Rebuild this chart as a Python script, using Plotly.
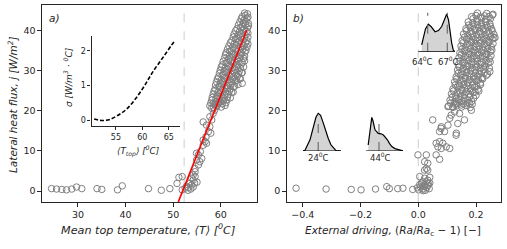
import plotly.graph_objects as go

W, H = 507, 249
def px(x): return x / W
def py(y): return (H - y) / H

# ---------------- data ----------------
# panel a: mean top temperature <T> [°C] vs lateral heat flux j [W/m2]
left_low = [(24.45,0.6),(25.5,0.5),(26.6,0.4),(27.6,0.3),(28.7,0.5),(29.7,1.0),(30.8,0.6),
            (34.0,0.6),(35.0,0.4),(38.3,0.3),(39.3,1.3),(44.8,0.6),(47.5,0.2),(49.3,0.6)]
left_mid = [(50.8,1.9),(51.2,3.4),(51.9,3.6),(51.9,0.3),(52.5,0.7),(52.8,1.2),(53.2,0.9),(53.5,1.9),
            (53.9,1.5),(53.7,0.5),(54.2,1.0),(53.1,0.2),(54.2,2.7),(53.9,3.2),(54.6,3.6),(54.2,4.0),
            (54.6,4.8),(55.0,2.2),(54.5,2.0),(54.6,5.6),(55.3,6.5),(55.6,7.3),(54.9,7.7),(56.0,8.1),
            (55.3,9.0),(54.9,9.4),(55.7,9.8),(56.3,11.4),(56.7,12.3),(57.0,11.9),(56.3,12.7),(56.9,13.5),
            (57.4,14.8),(57.9,14.4),(57.7,16.0),(57.0,16.4),(56.3,17.2),(58.1,17.7),(57.7,18.5),(58.4,19.3),
            (58.7,20.1),(58.1,20.6),(59.1,21.0),(58.4,21.8),(59.4,21.8),(59.8,22.2),(60.5,22.6)]
left_band = [(57.7,21.2),(58.5,20.8),(59.3,21.4),(60.1,20.9),(60.9,21.3),
             (57.9,21.9),(58.7,21.6),(59.5,22.0),(60.3,21.7),(61.1,22.0),
             (58.1,22.6),(58.9,22.2),(59.7,22.8),(60.5,22.4),(61.3,22.7),
             (58.2,23.3),(59.0,23.0),(59.8,23.5),(60.6,23.1),(61.4,23.4),(62.0,23.2),
             (58.4,24.2),(59.2,23.7),(60.0,24.4),(60.8,23.9),(61.6,24.1),(62.3,24.6),
             (58.6,24.9),(59.4,24.6),(60.2,25.0),(61.0,24.7),(61.8,24.9),(62.6,24.6),
             (58.8,25.4),(59.6,25.9),(60.4,25.3),(61.2,25.7),(62.0,25.4),(62.7,25.9),
             (58.9,26.4),(59.7,26.1),(60.5,26.5),(61.3,26.2),(62.1,26.4),(62.9,26.1),(63.6,26.5),
             (59.1,27.2),(59.9,26.8),(60.7,27.3),(61.5,26.9),(62.3,27.1),(63.1,27.4),(64.5,26.8),
             (59.3,27.9),(60.1,27.6),(60.9,28.0),(61.7,27.7),(62.5,27.9),(63.3,27.6),(64.0,27.9),
             (59.5,28.4),(60.3,28.8),(61.1,28.3),(61.9,28.7),(62.7,28.4),(63.5,28.6),(64.1,28.0),
             (59.7,29.3),(60.5,29.0),(61.3,29.5),(62.1,29.1),(62.9,29.4),(63.7,29.1),(64.4,29.4),
             (59.9,30.1),(60.7,29.8),(61.5,30.3),(62.3,29.9),(63.1,30.2),(63.9,29.8),(64.5,29.5),
             (60.1,30.9),(60.9,30.6),(61.7,31.0),(62.5,30.7),(63.3,30.9),(64.1,30.6),(64.8,30.9),
             (60.3,31.4),(61.1,31.8),(61.9,31.3),(62.7,31.7),(63.5,31.4),(64.3,31.6),
             (60.5,32.3),(61.3,32.0),(62.1,32.4),(62.9,32.1),(63.7,32.3),(64.5,32.0),(65.0,32.4),
             (60.8,33.2),(61.6,32.8),(62.4,33.3),(63.2,32.9),(64.0,33.1),(64.8,33.0),
             (61.0,33.9),(61.8,33.6),(62.6,34.0),(63.4,33.7),(64.2,33.9),(65.0,33.6),
             (61.1,34.4),(61.9,34.8),(62.7,34.3),(63.5,34.7),(64.3,34.4),(65.1,34.6),
             (61.4,35.3),(62.2,35.0),(63.0,35.4),(63.8,35.1),(64.6,35.3),(65.3,35.0),
             (61.7,36.1),(62.5,35.8),(63.3,36.3),(64.1,35.9),(64.9,36.2),(65.5,35.8),
             (62.0,36.9),(62.8,36.6),(63.6,37.0),(64.4,36.7),(65.2,36.9),(65.7,36.6),
             (62.3,37.4),(63.1,37.8),(63.9,37.3),(64.7,37.7),(65.5,37.4),
             (62.6,38.3),(63.4,38.0),(64.2,38.4),(65.0,38.1),(65.7,38.3),
             (62.8,39.1),(63.6,38.8),(64.4,39.2),(65.1,38.9),(65.7,39.3),
             (63.1,39.9),(63.9,39.6),(64.7,40.0),(65.4,39.7),
             (63.4,40.4),(64.2,40.7),(64.9,40.3),(65.6,40.6),
             (63.7,41.3),(64.5,41.0),(65.2,41.4),(65.8,41.1),
             (64.0,42.1),(64.7,41.8),(65.3,42.2),(65.8,41.7),
             (64.3,42.9),(64.9,42.6),(65.5,43.0),
             (64.5,43.4),(65.1,43.7),(65.7,43.3),
             (65.0,44.3),(65.6,44.1)]
fit_T = [51.07, 65.44]
fit_j = [-2.7, 40.0]
T_crit = 52.3

# panel b: external driving (Ra/Ra_c - 1) vs j
right_low = [(-0.423,0.7),(-0.319,0.5),(-0.232,0.4),(-0.198,0.3),(-0.148,0.5),(-0.109,1.1),
             (-0.100,0.6),(-0.071,0.6),(-0.053,0.7),(-0.019,0.4)]
right_mid = [(0.002,0.3),(0.008,1.0),(0.015,0.5),(0.020,1.5),(0.025,0.2),(0.030,0.9),(0.035,1.8),
             (0.012,2.0),(0.038,0.6),(0.005,1.6),(0.022,1.1),(0.028,2.3),(0.017,0.1),(0.033,1.4),
             (-0.003,0.8),(0.040,2.0),(0.005,3.6),(0.022,3.2),(0.033,2.7),(0.016,2.3),(0.040,3.4),
             (-0.001,9.0),(0.028,9.0),(0.022,7.3),(0.033,6.9),(0.028,5.6),(0.022,5.2),(0.033,5.2),
             (0.062,9.0),(0.074,7.9),(0.062,11.9),(0.074,12.3),(0.085,11.9),(0.068,11.0),(0.097,11.0),
             (0.080,10.6),(0.109,10.6),(0.074,14.8),(0.091,14.8),(0.080,16.0),(0.103,16.4),(0.132,14.4),
             (0.050,17.7),(0.079,15.6),(0.131,13.9),(0.109,18.1),(0.114,18.9),(0.137,16.8),(0.160,17.7),
             (0.126,19.7),(0.143,19.3),(0.103,21.0),(0.120,21.0),(0.132,21.8),(0.149,21.4),(0.178,21.8),
             (0.184,20.1)]
right_band = [(0.105,21.2),(0.120,20.8),(0.135,21.4),(0.150,20.9),(0.165,21.3),(0.180,20.8),
              (0.112,21.9),(0.127,21.6),(0.142,22.0),(0.157,21.7),(0.172,22.0),(0.187,21.6),
              (0.110,22.6),(0.125,22.2),(0.140,22.8),(0.155,22.4),(0.170,22.7),(0.185,22.3),
              (0.117,23.3),(0.132,23.0),(0.147,23.5),(0.162,23.1),(0.177,23.4),(0.192,23.1),
              (0.115,24.2),(0.130,23.7),(0.145,24.4),(0.160,23.9),(0.175,24.1),(0.190,24.6),(0.200,23.8),
              (0.122,24.9),(0.137,24.6),(0.152,25.0),(0.167,24.7),(0.182,24.9),(0.197,24.6),(0.210,24.9),
              (0.120,25.4),(0.135,25.9),(0.150,25.3),(0.165,25.7),(0.180,25.4),(0.195,25.9),(0.207,25.3),
              (0.128,26.4),(0.143,26.1),(0.158,26.5),(0.173,26.2),(0.188,26.4),(0.203,26.1),(0.216,26.5),
              (0.126,27.2),(0.141,26.8),(0.156,27.3),(0.171,26.9),(0.186,27.1),(0.201,27.4),(0.215,26.9),
              (0.133,27.9),(0.148,27.6),(0.163,28.0),(0.178,27.7),(0.193,27.9),(0.208,27.6),(0.223,27.9),
              (0.131,28.4),(0.146,28.8),(0.161,28.3),(0.176,28.7),(0.191,28.4),(0.206,28.6),(0.221,28.2),(0.236,28.8),
              (0.138,29.3),(0.153,29.0),(0.168,29.5),(0.183,29.1),(0.198,29.4),(0.213,29.1),(0.228,29.4),(0.240,29.1),
              (0.136,30.1),(0.151,29.8),(0.166,30.3),(0.181,29.9),(0.196,30.2),(0.211,29.8),(0.226,30.3),(0.248,29.7),
              (0.142,30.9),(0.157,30.6),(0.172,31.0),(0.187,30.7),(0.202,30.9),(0.217,30.6),(0.232,30.9),(0.246,30.6),
              (0.139,31.4),(0.154,31.8),(0.169,31.3),(0.184,31.7),(0.199,31.4),(0.214,31.6),(0.229,31.2),(0.242,31.8),
              (0.145,32.3),(0.160,32.0),(0.175,32.4),(0.190,32.1),(0.205,32.3),(0.220,32.0),(0.235,32.4),(0.249,32.1),
              (0.141,33.2),(0.156,32.8),(0.171,33.3),(0.186,32.9),(0.201,33.1),(0.216,33.0),(0.231,33.4),(0.246,32.9),
              (0.148,33.9),(0.163,33.6),(0.178,34.0),(0.193,33.7),(0.208,33.9),(0.223,33.6),(0.238,34.0),(0.252,33.7),
              (0.144,34.4),(0.159,34.8),(0.174,34.3),(0.189,34.7),(0.204,34.4),(0.219,34.6),(0.234,34.2),(0.250,34.7),
              (0.151,35.3),(0.166,35.0),(0.181,35.4),(0.196,35.1),(0.211,35.3),(0.226,35.0),(0.241,35.4),(0.255,35.1),
              (0.148,36.1),(0.163,35.8),(0.178,36.3),(0.193,35.9),(0.208,36.2),(0.223,35.8),(0.238,36.3),(0.253,35.9),
              (0.155,36.9),(0.170,36.6),(0.185,37.0),(0.200,36.7),(0.215,36.9),(0.230,36.6),(0.245,37.0),(0.259,36.7),
              (0.152,37.4),(0.167,37.8),(0.182,37.3),(0.197,37.7),(0.212,37.4),(0.227,37.7),(0.242,37.3),(0.256,37.8),(0.266,38.2),
              (0.160,38.3),(0.175,38.0),(0.190,38.4),(0.205,38.1),(0.220,38.3),(0.235,38.0),(0.250,38.4),(0.262,38.1),
              (0.157,39.1),(0.172,38.8),(0.187,39.2),(0.202,38.9),(0.217,39.3),(0.232,38.8),(0.247,39.2),(0.262,39.0),
              (0.167,39.9),(0.182,39.6),(0.197,40.0),(0.212,39.7),(0.227,39.9),(0.242,39.6),(0.256,39.9),
              (0.165,40.4),(0.180,40.7),(0.195,40.3),(0.210,40.6),(0.225,40.4),(0.240,40.8),(0.254,40.3),
              (0.175,41.3),(0.190,41.0),(0.205,41.4),(0.220,41.0),(0.235,41.3),(0.250,41.0),
              (0.173,42.1),(0.188,41.8),(0.203,42.2),(0.218,41.8),(0.233,42.1),(0.248,41.7),
              (0.190,42.9),(0.205,42.6),(0.220,43.0),(0.235,42.7),(0.250,42.9),
              (0.185,43.4),(0.200,43.7),(0.215,43.3),(0.230,43.6),(0.245,43.4),(0.257,43.8),
              (0.205,44.3),(0.237,44.2),(0.259,44.0)]
drive_crit = 0.0

# inset: sigma vs <T_top>
inset_T = [50.9, 52.0, 52.9, 53.9, 55.2, 57.0, 58.9, 60.5, 62.0, 63.9, 65.5, 66.1]
inset_sigma = [0.04, 0.0, 0.0, 0.03, 0.13, 0.32, 0.66, 1.02, 1.4, 1.81, 2.16, 2.28]

# small temperature distributions
h1_T = [20.2, 20.7, 21.95, 22.95, 23.45, 24.0, 24.6, 25.3, 25.95, 26.5, 27.2, 27.8, 28.45, 29.7]
h1_p = [0, 0.02, 0.28, 0.65, 0.85, 0.94, 0.89, 0.69, 0.48, 0.32, 0.15, 0.07, 0.01, 0]
h2_T = [41.3, 41.6, 41.9, 42.2, 42.5, 43.0, 43.8, 44.5, 45.1, 45.6, 46.1, 46.6, 47.2, 48.0, 49.25, 50.0]
h2_p = [0.15, 0.4, 0.68, 0.84, 0.75, 0.53, 0.44, 0.43, 0.4, 0.34, 0.28, 0.19, 0.11, 0.06, 0.02, 0]
h3_T = [63.08, 63.36, 63.66, 64.09, 64.5, 65.12, 65.65, 66.14, 66.57, 66.91, 67.19, 67.41, 67.67, 67.92, 68.18]
h3_p = [0.17, 0.37, 0.57, 0.69, 0.63, 0.5, 0.53, 0.63, 0.82, 0.94, 0.79, 0.46, 0.22, 0.04, 0]
h1_mark, h1_markh = [24], 0.92
h2_mark, h2_markh = [44], 0.9
h3_mark, h3_markh = [64, 67], 0.975

# ---------------- figure ----------------
FONT = "DejaVu Sans"
INK = "#262626"
GREY = "#808080"

def split(pts):
    return [p[0] for p in pts], [p[1] for p in pts]

fig = go.Figure()
marker = dict(symbol="circle-open", size=6.5, color=GREY, line=dict(width=1, color=GREY))

lx, ly = split(left_low + left_mid + left_band)
fig.add_trace(go.Scatter(x=lx, y=ly, mode="markers", marker=marker, xaxis="x", yaxis="y"))
fig.add_trace(go.Scatter(x=fit_T, y=fit_j, mode="lines", line=dict(color="red", width=1.6),
                         xaxis="x", yaxis="y"))
rx, ry = split(right_low + right_mid + right_band)
fig.add_trace(go.Scatter(x=rx, y=ry, mode="markers", marker=marker, xaxis="x2", yaxis="y2"))

fig.add_trace(go.Scatter(x=inset_T, y=inset_sigma, mode="lines", line_shape="spline",
                         line=dict(color="black", width=1.6, dash="4px,2px"), xaxis="x3", yaxis="y3"))

for k, (T, p, marks, mh) in zip([4, 5, 6], [(h1_T, h1_p, h1_mark, h1_markh),
                                           (h2_T, h2_p, h2_mark, h2_markh),
                                           (h3_T, h3_p, h3_mark, h3_markh)]):
    fig.add_trace(go.Scatter(x=T, y=p, mode="lines", fill="tozeroy", fillcolor="#d4d4d4",
                             line=dict(color="black", width=1.2), xaxis=f"x{k}", yaxis=f"y{k}"))
    for m in marks:
        fig.add_trace(go.Scatter(x=[m, m], y=[0, mh], mode="lines",
                                 line=dict(color="#666666", width=1.1, dash="dash"),
                                 xaxis=f"x{k}", yaxis=f"y{k}"))
    fig.add_shape(type="line", xref=f"x{k} domain", yref=f"y{k}", x0=0, x1=1, y0=0, y1=0,
                  line=dict(color="black", width=1.2))

# critical dashed lines
fig.add_shape(type="line", xref="x", yref="y domain", x0=T_crit, x1=T_crit, y0=0, y1=1,
              line=dict(color="#cccccc", width=1, dash="dash"), layer="below")
fig.add_shape(type="line", xref="x2", yref="y2 domain", x0=drive_crit, x1=drive_crit, y0=0, y1=1,
              line=dict(color="#cccccc", width=1, dash="dash"), layer="below")

tickfont = dict(family=FONT, size=9.5, color=INK)
main_ax = dict(showline=True, mirror=True, linecolor=INK, linewidth=1.2, ticks="outside",
               ticklen=3.5, tickwidth=1, tickcolor=INK, showgrid=False, zeroline=False,
               tickfont=tickfont)
ydom = [py(202.3), py(5)]
fig.update_layout(
    width=W, height=H, margin=dict(l=0, r=0, t=0, b=0), autosize=False,
    paper_bgcolor="white", plot_bgcolor="rgba(0,0,0,0)", showlegend=False,
    xaxis=dict(main_ax, domain=[px(42), px(256.5)], range=[22.44, 67.5], tickvals=[30, 40, 50, 60], anchor="y"),
    yaxis=dict(main_ax, domain=ydom, range=[-2.8, 46.3], tickvals=[0, 10, 20, 30, 40], anchor="x"),
    xaxis2=dict(main_ax, domain=[px(286.7), px(500.7)], range=[-0.4554, 0.2855],
                tickvals=[-0.4, -0.2, 0.0, 0.2], ticktext=["−0.4", "−0.2", "0.0", "0.2"], anchor="y2"),
    yaxis2=dict(main_ax, domain=ydom, range=[-2.8, 46.3], tickvals=[0, 10, 20, 30, 40], anchor="x2"),
    xaxis3=dict(showline=True, mirror=False, linecolor=INK, linewidth=1.1, ticks="outside", ticklen=3,
                tickcolor=INK, showgrid=False, zeroline=False, tickfont=dict(family=FONT, size=8, color=INK),
                domain=[px(91.5), px(180)], range=[50.4, 67.1], tickvals=[55, 60, 65], anchor="y3"),
    yaxis3=dict(showline=True, mirror=False, linecolor=INK, linewidth=1.1, ticks="outside", ticklen=3,
                tickcolor=INK, showgrid=False, zeroline=False, tickfont=dict(family=FONT, size=8, color=INK),
                domain=[py(126.3), py(35.8)], range=[-0.17, 2.43], tickvals=[0, 1, 2], anchor="x3"),
)
hid = dict(visible=False, showgrid=False, zeroline=False, fixedrange=True)
fig.update_layout(
    xaxis4=dict(hid, domain=[px(303), px(341)], range=[20.2, 29.7], anchor="y4"),
    yaxis4=dict(hid, domain=[py(151), py(111)], range=[0, 1], anchor="x4"),
    xaxis5=dict(hid, domain=[px(366), px(403)], range=[40.75, 50.0], anchor="y5"),
    yaxis5=dict(hid, domain=[py(151), py(111)], range=[0, 1], anchor="x5"),
    xaxis6=dict(hid, domain=[px(418.3), px(455)], range=[62.56, 68.18], anchor="y6"),
    yaxis6=dict(hid, domain=[py(51.7), py(11.7)], range=[0, 1], anchor="x6"),
)

def ann(text, x, y, size=10.5, angle=0, xanchor="center", yanchor="middle"):
    fig.add_annotation(text=text, x=px(x), y=py(y), xref="paper", yref="paper", showarrow=False,
                       textangle=angle, xanchor=xanchor, yanchor=yanchor,
                       font=dict(family=FONT, size=size, color=INK))

ann("<i>Lateral heat flux, j [W/m<sup>2</sup>]</i>", 12, 105, size=10.5, angle=-90)
ann("<i>Mean top temperature, ⟨T⟩ [<sup>0</sup>C]</i>", 148, 230, size=11.2)
ann("<i>External driving,</i> (<i>Ra</i>/<i>Ra</i><sub>c</sub> − 1) [−]", 393, 231, size=10.5)
ann("<i>σ [W/m<sup>3</sup> · <sup>0</sup>C]</i>", 68, 77, size=9, angle=-90)
ann("<i>⟨T<sub>top</sub>⟩ [<sup>0</sup>C]</i>", 137.5, 151, size=8.8)
ann("<i>a)</i>", 47, 18, size=10.5, xanchor="left")
ann("<i>b)</i>", 291, 18, size=10.5, xanchor="left")
ann("24<sup>0</sup>C", 318.3, 157, size=8.5)
ann("44<sup>0</sup>C", 380.5, 157, size=8.5)
ann("64<sup>0</sup>C", 422.5, 61, size=8.5)
ann("67<sup>0</sup>C", 448.5, 61, size=8.5)

fig.write_html("out.html", config={"displayModeBar": False},
               post_script="document.body.style.margin='0';document.body.style.overflow='hidden';")
